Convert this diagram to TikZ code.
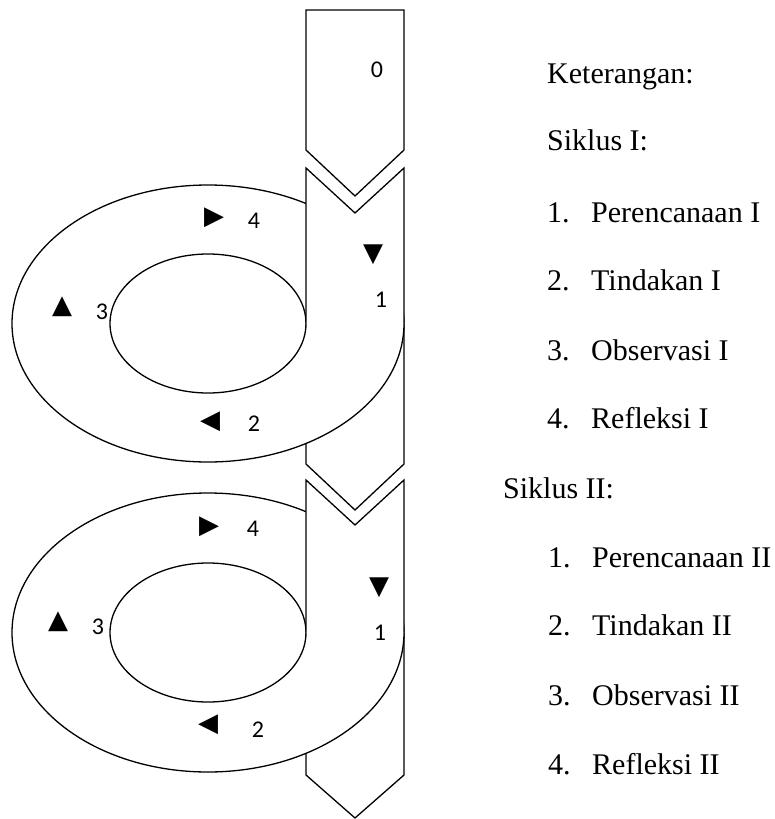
\documentclass[tikz,border=0pt]{standalone}
\usepackage{fontspec}
\setmainfont{Liberation Serif}
\newfontfamily\numfont{Carlito}
\newfontfamily\symfont{DejaVu Sans}
\begin{document}
\begin{tikzpicture}[x=1pt,y=-1pt,
  edge/.style={line width=1.3pt, line join=miter},
  num/.style={inner sep=0pt, font=\numfont\fontsize{24}{26}\selectfont},
  tri/.style={inner sep=0pt, font=\symfont\fontsize{26}{28}\selectfont},
  legend/.style={inner sep=0pt, anchor=base west, font=\fontsize{30}{32}\selectfont}]
\useasboundingbox (0,0) rectangle (775,819);

% block 0
\draw[edge] (306,10) -- (404,10) -- (404,150) -- (355,196) -- (306,150) -- cycle;
\node[num] (n0) at (377,70) {0};

% ---------- cycle 1 ----------
\coordinate (c1) at (208,323.5);
\draw[edge] (306,323.5) -- (306,464) -- (355,510) -- (404,464) -- (404,323.5);
\fill[white, even odd rule] (c1) ellipse (196 and 138.5) (c1) ellipse (98 and 69.5);
\draw[edge] (c1) ellipse (196 and 138.5);
\draw[edge] (c1) ellipse (98 and 69.5);
\fill[white] (306,168) -- (355,213) -- (404,168) -- (404,323.5) -- (306,323.5) -- cycle;
\draw[edge] (306,323.5) -- (306,168) -- (355,213) -- (404,168) -- (404,323.5);

\node[tri] (t1a) at (373,255) {▼};
\node[num] (l1a) at (381,300) {1};
\node[tri] (t1b) at (210,422) {◀};
\node[num] (l1b) at (254,424) {2};
\node[tri] (t1c) at (62,307) {▲};
\node[num] (l1c) at (102,312) {3};
\node[tri] (t1d) at (214,218) {▶};
\node[num] (l1d) at (254,221) {4};

% ---------- cycle 2 ----------
\coordinate (c2) at (208,632.5);
\draw[edge] (306,632.5) -- (306,775) -- (355,818) -- (404,775) -- (404,632.5);
\fill[white, even odd rule] (c2) ellipse (196 and 139.5) (c2) ellipse (98 and 69.5);
\draw[edge] (c2) ellipse (196 and 139.5);
\draw[edge] (c2) ellipse (98 and 69.5);
\fill[white] (306,480) -- (355,525) -- (404,480) -- (404,632.5) -- (306,632.5) -- cycle;
\draw[edge] (306,632.5) -- (306,480) -- (355,525) -- (404,480) -- (404,632.5);

\node[tri] (t2a) at (379,588) {▼};
\node[num] (l2a) at (380,633) {1};
\node[tri] (t2b) at (208,725) {◀};
\node[num] (l2b) at (258,730) {2};
\node[tri] (t2c) at (58,622) {▲};
\node[num] (l2c) at (98,627) {3};
\node[tri] (t2d) at (209,527) {▶};
\node[num] (l2d) at (253,529) {4};

% ---------- legend ----------
\node[legend] (ket) at (547,83) {Keterangan:};
\node[legend] (s1) at (547,150.5) {Siklus I:};
\node[legend] (s1n1) at (547,222) {1.};
\node[legend] (s1t1) at (591,222) {Perencanaan I};
\node[legend] (s1n2) at (547,290) {2.};
\node[legend] (s1t2) at (591,290) {Tindakan I};
\node[legend] (s1n3) at (547,360) {3.};
\node[legend] (s1t3) at (591,360) {Observasi I};
\node[legend] (s1n4) at (547,428) {4.};
\node[legend] (s1t4) at (591,428) {Refleksi I};

\node[legend] (s2) at (503,498) {Siklus II:};
\node[legend] (s2n1) at (548,567) {1.};
\node[legend] (s2t1) at (592,567) {Perencanaan II};
\node[legend] (s2n2) at (548,635) {2.};
\node[legend] (s2t2) at (592,635) {Tindakan II};
\node[legend] (s2n3) at (548,705) {3.};
\node[legend] (s2t3) at (592,705) {Observasi II};
\node[legend] (s2n4) at (548,774) {4.};
\node[legend] (s2t4) at (592,774) {Refleksi II};
\end{tikzpicture}
\end{document}
